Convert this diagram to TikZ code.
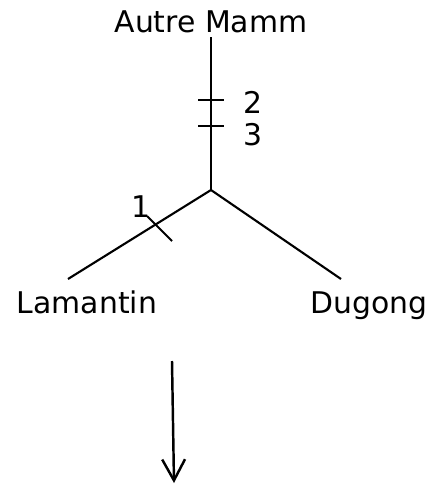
\documentclass[tikz,border=0pt]{standalone}
\usepackage{fontspec}
\setmainfont{DejaVu Sans}
\usetikzlibrary{arrows.meta}

\tikzset{
	taxon/.style={anchor=base, inner sep=0pt, font=\fontsize{17}{20}\selectfont},
	branch/.style={line width=1.2pt},
	caractere/.style={line width=1.2pt},
}

\begin{document}
\begin{tikzpicture}[x=0.02cm, y=-0.02cm]
	\useasboundingbox (0,0) rectangle (428,484);

	\node[taxon] (autre) at (211, 32)     {Autre Mamm};
	\node[taxon] (lam)   at (87, 313)     {Lamantin};
	\node[taxon] (dug)   at (369, 313)    {Dugong};
	\node[taxon] (c2)    at (253, 113)    {2};
	\node[taxon] (c3)    at (253, 145)    {3};
	\node[taxon] (c1)    at (141, 217)    {1};

	\coordinate (racine) at (211, 37);
	\coordinate (noeud)  at (211, 190);
	\coordinate (lamtip) at (68, 279);
	\coordinate (dugtip) at (341, 279);

	\draw[branch] (racine) -- (noeud);
	\draw[branch] (noeud) -- (lamtip);
	\draw[branch] (noeud) -- (dugtip);

	\draw[caractere] (198, 100) -- (224, 100);
	\draw[caractere] (198, 126) -- (224, 126);
	\draw[caractere] (147, 216) -- (172, 241);

	\coordinate (flechehaut) at (172, 361);
	\coordinate (flechebas)  at (174, 483);
	\path[-{Straight Barb[length=12pt, width=13pt]}, line width=1.4pt] (flechehaut) edge (flechebas);

\end{tikzpicture}
\end{document}
